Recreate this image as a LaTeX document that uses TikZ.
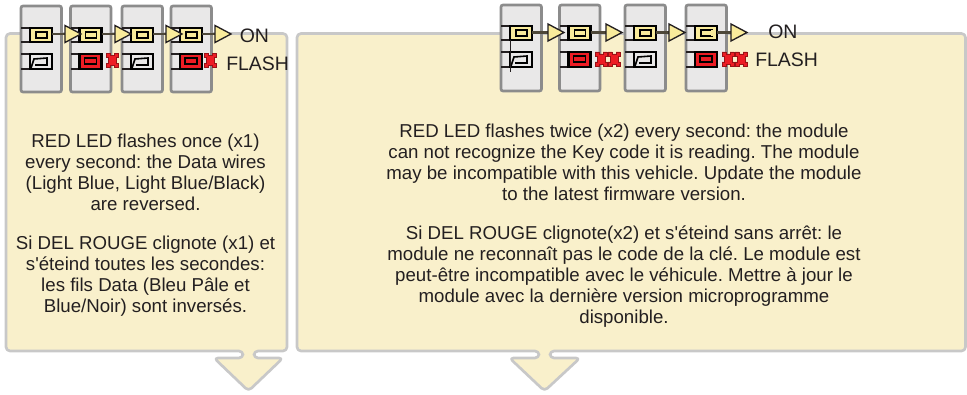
\documentclass[tikz,border=0pt]{standalone}
\usepackage{fontspec}
\setmainfont{Liberation Sans}
\newfontfamily\plainsans{Liberation Sans}
\frenchspacing
\definecolor{panelfill}{HTML}{F9F0CB}
\definecolor{panelline}{HTML}{C8C8C8}
\definecolor{modfill}{HTML}{E9E8E8}
\definecolor{modline}{HTML}{8C8C8C}
\definecolor{ledon}{HTML}{F9EB9B}
\definecolor{ledred}{HTML}{ED1C24}
\definecolor{ink}{HTML}{231F20}
\tikzset{
  panel/.style={draw=panelline,fill=panelfill,line width=2pt,rounded corners=3pt,line join=round},
  modbox/.style={draw=modline,fill=modfill,line width=2pt,rounded corners=1.5pt},
  wire/.style={draw=ink,line width=1.2pt},
  led/.style={draw=black,line width=1.7pt},
  feed/.style={draw=ink!80!ledon,line width=1.6pt},
  tip/.style={draw=ink,fill=ledon,line width=1pt,line join=miter},
  flashmark/.style={draw=ledred!65!black,fill=ledred,line width=.5pt},
  body/.style={text=ink,align=center,font=\plainsans\fontsize{14pt}{15.75pt}\selectfont\frenchspacing,inner sep=0pt},
  tag/.style={text=ink,anchor=west,font=\fontsize{14.6pt}{16pt}\selectfont,inner sep=0pt},
}
\newcommand{\modframe}[2]{\draw[modbox] (#1,#2) rectangle ++(40.5,86);}
% the wires and the upper LED of a module
\newcommand{\modbody}[2]{%
  \draw[wire] (#1,#2+22)--++(9,0) (#1,#2+36)--++(9,0) (#1,#2+48)--++(9,0) (#1,#2+63)--++(9,0);
  \draw[led,fill=ledon] (#1+9,#2+22) rectangle ++(22,14);
  \draw[led,line width=1.3pt,fill=ledon] (#1+15,#2+26) rectangle ++(11,6);
}
\newcommand{\ledoff}[2]{%
  \draw[led,fill=modfill] (#1+9,#2+48) rectangle ++(22,15);
  \draw[led,line width=1.2pt] (#1+10,#2+62)--(#1+13,#2+53)--(#1+26,#2+52)--(#1+26,#2+59)--(#1+14,#2+59);
}
\newcommand{\ledflash}[2]{%
  \draw[led,fill=ledred] (#1+9,#2+48) rectangle ++(22,15);
  \draw[led,line width=1.3pt] (#1+14,#2+52) rectangle ++(12,6);
}
% small red flash mark, top left at (#1,#2)
\newcommand{\flashx}[2]{%
  \draw[flashmark] (#1,#2)--++(4,0)--++(0,2)--++(4,0)--++(0,-2)--++(4,0)--++(0,4)--++(-2,0)--++(0,6)--++(2,0)--++(0,4)--++(-4,0)--++(0,-2)--++(-4,0)--++(0,2)--++(-4,0)--++(0,-4)--++(2,0)--++(0,-6)--++(-2,0)--cycle;
}
% feed line and triangle at the ON row
\newcommand{\ontip}[3]{%
  \draw[feed] (#1,#3)--(#2,#3);
  \draw[tip] (#2,#3-8.5)--(#2+16,#3)--(#2,#3+8.5)--cycle;
}
\begin{document}
\begin{tikzpicture}[x=.75pt,y=-.75pt]
\useasboundingbox (0,0) rectangle (967,395);
% panels with their down arrows
\draw[panel] (6,33.5)--(287,33.5)--(287,351)--(254,351)--(254,358)--(283,358)--(248.5,391)--(214,358)--(243,358)--(243,351)--(6,351)--cycle;
\draw[panel] (297,33.5)--(965.5,33.5)--(965.5,351)--(550,351)--(550,358)--(580,358)--(544.5,391)--(509.5,358)--(539,358)--(539,351)--(297,351)--cycle;
% left group
\modframe{21}{6}\modbody{21}{6}\ledoff{21}{6}
\modframe{70.5}{6}\modbody{70.5}{6}\ledflash{70.5}{6}
\modframe{122}{6}\modbody{122}{6}\ledoff{122}{6}
\modframe{171}{6}\modbody{171}{6}\ledflash{171}{6}
\flashx{106}{53.5}\flashx{204.5}{53.5}
\ontip{52}{65}{34}\ontip{101.5}{115}{34}\ontip{153}{166}{34}\ontip{202}{215}{34}
\node[tag] (onl) at (239.5,36) {ON};
\node[tag] (flashl) at (226,64) {FLASH};
% right group
\modframe{501}{5}\modbody{501}{4}\ledoff{501}{4}
\modframe{559.5}{5}\modbody{559.5}{4}\ledflash{559.5}{4}
\modframe{625}{5}\modbody{625}{4}\ledoff{625}{4}
\modframe{686}{5}\modbody{686}{4}\ledflash{686}{4}
\draw[ledon,line width=1.4pt] (712,30)--(712,36);
\draw[wire] (510.5,40)--(510.5,72.5);
\flashx{595}{52}\flashx{608}{52}\flashx{722}{52}\flashx{735}{52}
\ontip{532}{548}{32.5}\ontip{590.5}{606}{32.5}\ontip{656}{669}{32.5}\ontip{717}{731}{32.5}
\node[tag] (onr) at (768,32) {ON};
\node[tag] (flashr) at (755,59.5) {FLASH};
% texts
\node[body] (t1a) at (145.5,172) {RED LED flashes once (x1)\\every second: the Data wires\\(Light Blue, Light Blue/Black)\\are reversed.};
\node[body] (t1b) at (145.5,276.5) {Si DEL ROUGE clignote (x1) et\\s'éteind toutes les secondes:\\les fils Data (Bleu Pâle et\\Blue/Noir) sont inversés.};
\node[body] (t2a) at (624,162) {RED LED flashes twice (x2) every second: the module\\can not recognize the Key code it is reading. The module\\may be incompatible with this vehicle. Update the module\\to the latest firmware version.};
\node[body] (t2b) at (624,276.5) {Si DEL ROUGE clignote(x2) et s'éteind sans arrêt: le\\module ne reconnaît pas le code de la clé. Le module est\\peut-être incompatible avec le véhicule. Mettre à jour le\\module avec la dernière version microprogramme\\disponible.};
\end{tikzpicture}
\end{document}
